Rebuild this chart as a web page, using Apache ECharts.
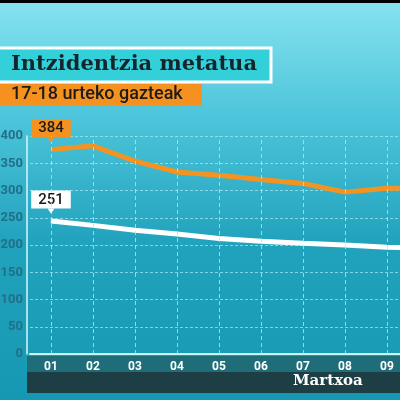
<!DOCTYPE html>
<html>
<head>
<meta charset="utf-8">
<script src="https://cdn.jsdelivr.net/npm/echarts@6/dist/echarts.min.js"></script>
<style>
  html, body { margin: 0; padding: 0; }
  #chart { width: 400px; height: 400px; }
</style>
</head>
<body>
<div id="chart"></div>
<script>
var chart = echarts.init(document.getElementById('chart'));

var days = ['01', '02', '03', '04', '05', '06', '07', '08', '09', '10'];
var gazteak = [375, 382, 354, 334, 328, 320, 313, 297, 304, 305];
var guztira = [244, 236, 227, 220, 212, 207, 203, 200, 196, 194];
var firstLabels = ['384', '251'];
var yTicks = { min: 0, max: 400, interval: 50 };

function firstPoint(values, text, bg) {
    return values.map(function (v, i) {
        if (i !== 0) return v;
        return {
            value: v,
            label: {
                show: true,
                position: 'top',
                distance: 12,
                formatter: text,
                backgroundColor: bg,
                color: '#1a1a1a',
                fontSize: 15,
                fontWeight: 500,
                fontFamily: 'Roboto',
                padding: [1, 7, 0, 7],
                lineHeight: 17
            }
        };
    });
}

function pointer(values, color) {
    return {
        silent: true,
        symbol: 'triangle',
        symbolSize: [7, 5],
        symbolRotate: 180,
        symbolOffset: [0, -10],
        itemStyle: { color: color },
        label: { show: false },
        data: [{ coord: [days[0], values[0]] }]
    };
}

option = {
    backgroundColor: {
        type: 'linear', x: 0, y: 0, x2: 0, y2: 1,
        colorStops: [
            { offset: 0, color: '#86e3f0' },
            { offset: 0.3, color: '#4cc4da' },
            { offset: 0.6, color: '#22a3bd' },
            { offset: 1, color: '#1698b2' }
        ]
    },
    animation: false,
    graphic: [
        { type: 'rect', shape: { x: 0, y: 0, width: 400, height: 3 }, style: { fill: '#000' } },
        { type: 'rect', z: 0, shape: { x: 27, y: 356, width: 380, height: 16 }, style: { fill: '#1f6d79' } },
        { type: 'rect', z: 0, shape: { x: 27, y: 372, width: 380, height: 21 }, style: { fill: '#1d3e45' } },
        {
            type: 'text', left: 293, top: 374,
            style: { text: 'Martxoa', fill: '#ffffff', font: 'bold 15px "DejaVu Serif"' }
        },
        {
            type: 'rect', shape: { x: -3, y: 48, width: 274, height: 34 },
            style: { fill: '#33d0da', stroke: '#ffffff', lineWidth: 3 }
        },
        {
            type: 'text', left: 11, top: 54,
            style: { text: 'Intzidentzia metatua', fill: '#13262c', font: 'bold 21px "DejaVu Serif"' }
        },
        { type: 'rect', shape: { x: 0, y: 84, width: 202, height: 22 }, style: { fill: '#f5921f' } },
        {
            type: 'text', left: 11, top: 85,
            style: { text: '17-18 urteko gazteak', fill: '#1b1b1b', font: '500 18px "Roboto"' }
        }
    ],
    grid: { left: 30, width: 420, top: 136, bottom: 46, outerBoundsMode: 'none', containLabel: false },
    xAxis: {
        type: 'category',
        data: days,
        boundaryGap: true,
        axisLine: { lineStyle: { color: '#c8f4fa', width: 2 } },
        axisTick: { show: false },
        axisLabel: { color: '#ffffff', fontSize: 12, fontWeight: 'bold', fontFamily: 'Roboto', margin: 7 },
        splitLine: { show: false }
    },
    yAxis: {
        type: 'value',
        min: yTicks.min,
        max: yTicks.max,
        interval: yTicks.interval,
        offset: 3,
        axisLine: { show: true, lineStyle: { color: '#d6f7fb', width: 1.5 } },
        axisTick: { show: false },
        axisLabel: { color: '#236f88', fontSize: 13, fontWeight: 'bold', fontFamily: 'Roboto', margin: 4 },
        splitLine: { lineStyle: { color: 'rgba(170,235,245,0.7)', type: [3, 2], width: 1 } }
    },
    series: [
        {
            name: 'grid',
            type: 'line',
            data: [],
            silent: true,
            markLine: {
                silent: true,
                symbol: 'none',
                label: { show: false },
                lineStyle: { color: 'rgba(170,235,245,0.8)', type: [4, 3], width: 1 },
                data: days.slice(0, 9).map(function (d) { return { xAxis: d }; })
            }
        },
        {
            name: '17-18 urteko gazteak',
            type: 'line',
            data: firstPoint(gazteak, firstLabels[0], '#f5921f'),
            symbol: 'circle',
            symbolSize: 1,
            showSymbol: true,
            itemStyle: { color: '#f39322' },
            lineStyle: { color: '#f39322', width: 5 },
            markPoint: pointer(gazteak, '#f5921f'),
            z: 3
        },
        {
            name: 'guztira',
            type: 'line',
            data: firstPoint(guztira, firstLabels[1], '#ffffff'),
            symbol: 'circle',
            symbolSize: 1,
            showSymbol: true,
            itemStyle: { color: '#ffffff' },
            lineStyle: { color: '#ffffff', width: 5 },
            markPoint: pointer(guztira, '#ffffff'),
            z: 3
        }
    ]
};
chart.setOption(option);
</script>
</body>
</html>
